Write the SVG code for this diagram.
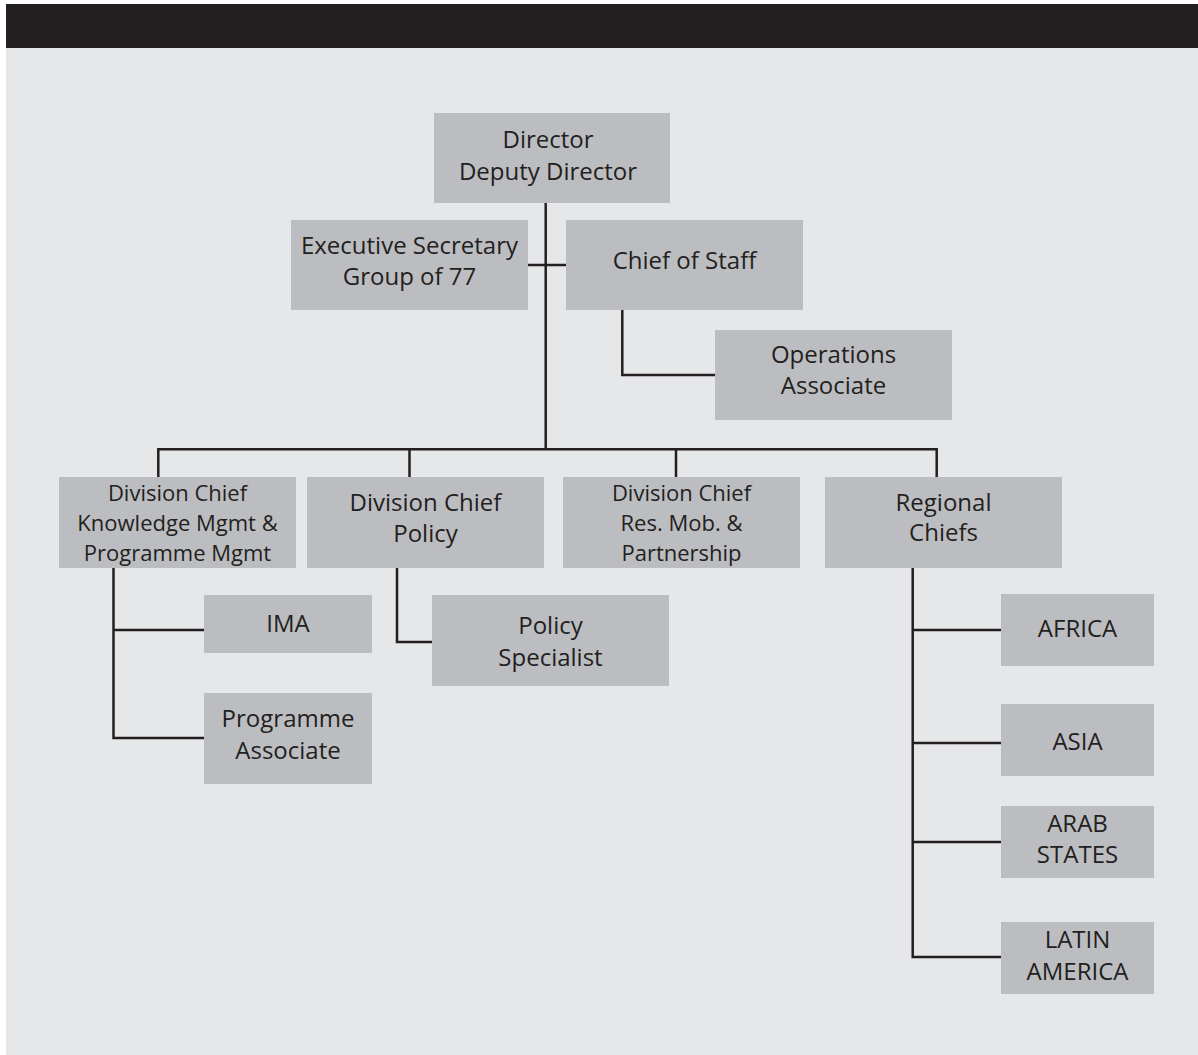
<svg xmlns="http://www.w3.org/2000/svg" width="1198" height="1055" viewBox="0 0 1198 1055">
<style>
.box{fill:#bcbdc0}
.t{font-family:"Open Sans","Liberation Sans",sans-serif;font-size:24px;fill:#231f20;text-anchor:middle}
.s{font-size:22px}
.ln{stroke:#231f20;stroke-width:2.5;fill:none}
</style>
<rect x="0" y="0" width="1198" height="1055" fill="#ffffff"/>
<rect x="6" y="4" width="1192" height="1051" fill="#e6e7e8"/>
<rect x="6" y="4" width="1192" height="44" fill="#231f20"/>
<g id="connectors" class="ln">
<path d="M545.7 203 V449.3"/>
<path d="M528 265 H566"/>
<path d="M622.3 310 V375 H715"/>
<path d="M158.3 477 V449.3 H936.7 V477"/>
<path d="M409.5 449.3 V477"/>
<path d="M676 449.3 V477"/>
<path d="M113.5 567 V738 H204"/>
<path d="M113.5 630 H204"/>
<path d="M397 567 V642 H432"/>
<path d="M912.7 567 V957 H1001"/>
<path d="M912.7 630 H1001"/>
<path d="M912.7 743 H1001"/>
<path d="M912.7 842 H1001"/>
</g>
<g id="director"><rect class="box" x="434" y="113" width="236" height="90"/><text class="t" x="548" y="148">Director</text><text class="t" x="548" y="180">Deputy Director</text></g>
<g id="exec-secretary"><rect class="box" x="291" y="220" width="237" height="90"/><text class="t" x="409.5" y="254">Executive Secretary</text><text class="t" x="409.5" y="285">Group of 77</text></g>
<g id="chief-of-staff"><rect class="box" x="566" y="220" width="237" height="90"/><text class="t" x="684.5" y="269">Chief of Staff</text></g>
<g id="operations-associate"><rect class="box" x="715" y="330" width="237" height="90"/><text class="t" x="833.5" y="363">Operations</text><text class="t" x="833.5" y="394">Associate</text></g>
<g id="div-km"><rect class="box" x="59" y="477" width="237" height="91"/><text class="t s" x="177.5" y="500.5">Division Chief</text><text class="t s" x="177.5" y="530.5">Knowledge Mgmt &amp;</text><text class="t s" x="177.5" y="560.5">Programme Mgmt</text></g>
<g id="div-policy"><rect class="box" x="307" y="477" width="237" height="91"/><text class="t" x="425.5" y="510.7">Division Chief</text><text class="t" x="425.5" y="541.7">Policy</text></g>
<g id="div-res"><rect class="box" x="563" y="477" width="237" height="91"/><text class="t s" x="681.5" y="500.5">Division Chief</text><text class="t s" x="681.5" y="530.5">Res. Mob. &amp;</text><text class="t s" x="681.5" y="560.5">Partnership</text></g>
<g id="regional-chiefs"><rect class="box" x="825" y="477" width="237" height="91"/><text class="t" x="943.5" y="510.7">Regional</text><text class="t" x="943.5" y="540.7">Chiefs</text></g>
<g id="ima"><rect class="box" x="204" y="595" width="168" height="58"/><text class="t" x="288" y="631.7">IMA</text></g>
<g id="programme-associate"><rect class="box" x="204" y="693" width="168" height="91"/><text class="t" x="288" y="727">Programme</text><text class="t" x="288" y="759">Associate</text></g>
<g id="policy-specialist"><rect class="box" x="432" y="595" width="237" height="91"/><text class="t" x="550.5" y="634">Policy</text><text class="t" x="550.5" y="666">Specialist</text></g>
<g id="africa"><rect class="box" x="1001" y="594" width="153" height="72"/><text class="t" x="1077.5" y="636.7">AFRICA</text></g>
<g id="asia"><rect class="box" x="1001" y="704" width="153" height="72"/><text class="t" x="1077.5" y="750">ASIA</text></g>
<g id="arab-states"><rect class="box" x="1001" y="806" width="153" height="72"/><text class="t" x="1077.5" y="831.7">ARAB</text><text class="t" x="1077.5" y="863">STATES</text></g>
<g id="latin-america"><rect class="box" x="1001" y="922" width="153" height="72"/><text class="t" x="1077.5" y="948">LATIN</text><text class="t" x="1077.5" y="980">AMERICA</text></g>
</svg>
